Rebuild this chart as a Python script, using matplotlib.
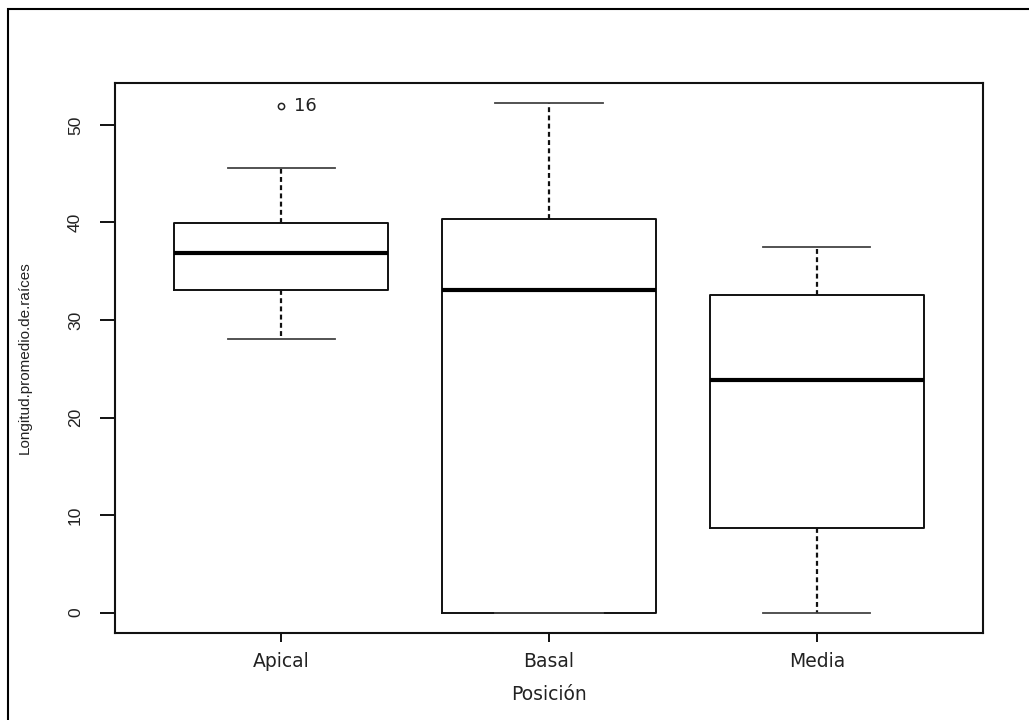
import matplotlib
matplotlib.use("Agg")
import matplotlib.pyplot as plt
from matplotlib.patches import Rectangle

# Values
categories = ["Apical", "Basal", "Media"]
whisker_low = [28.1, 0.0, 0.0]
q1 = [33.1, 0.0, 8.7]
medians = [36.9, 33.1, 23.8]
q3 = [39.9, 40.4, 32.6]
whisker_high = [45.6, 52.2, 37.5]
outliers = [[51.9], [], []]
outlier_ids = [["16"], [], []]
yticks = [0, 10, 20, 30, 40, 50]

stats = []
for i, name in enumerate(categories):
    stats.append(dict(label=name, whislo=whisker_low[i], q1=q1[i], med=medians[i],
                      q3=q3[i], whishi=whisker_high[i], fliers=outliers[i]))

fig = plt.figure(figsize=(10.29, 7.2), dpi=100)
ax = fig.add_axes([115 / 1029, 87 / 720, 868 / 1029, 550 / 720])

ax.bxp(stats, positions=[1, 2, 3], widths=0.8, capwidths=0.4,
       boxprops=dict(color="#111111", linewidth=1.4),
       medianprops=dict(color="black", linewidth=3.0),
       whiskerprops=dict(color="#111111", linewidth=1.6, linestyle=(0, (2.2, 1.5))),
       capprops=dict(color="#444444", linewidth=1.3),
       flierprops=dict(marker="o", markersize=4.5, markerfacecolor="none",
                       markeredgecolor="#222222", markeredgewidth=1.1))

# outlier label as in R identify()
for i in range(len(categories)):
    for val, lab in zip(outliers[i], outlier_ids[i]):
        ax.text(i + 1.05, val, lab, fontsize=13, family="DejaVu Sans",
                va="center", ha="left", color="#222222")

ax.set_xlim(0.38, 3.62)
ax.set_ylim(-2.09, 54.3)
ax.set_xticks([1, 2, 3])
ax.set_xticklabels(categories, fontsize=13.5, family="DejaVu Sans", color="#222222")
ax.set_yticks(yticks)
ax.set_yticklabels([str(t) for t in yticks], rotation=90, va="center",
                   fontsize=12.5, family="Liberation Sans", color="#222222")
ax.tick_params(axis="y", length=11, width=1.4, pad=12, colors="#111111")
ax.tick_params(axis="x", length=6.5, width=1.4, pad=7, colors="#111111")
for lab in ax.get_yticklabels() + ax.get_xticklabels():
    lab.set_color("#222222")
for sp in ax.spines.values():
    sp.set_linewidth(1.5)
    sp.set_color("#111111")

ax.set_xlabel("Posición", fontsize=13.5, family="DejaVu Sans", color="#222222")
ax.xaxis.set_label_coords(0.5, (633 - 695) / 550)
ax.xaxis.label.set_va("center")
ax.set_ylabel("Longitud.promedio.de.raíces", fontsize=11,
              family="Liberation Sans", color="#222222")
ax.yaxis.set_label_coords((25 - 115) / 868, 0.5)
ax.yaxis.label.set_va("center")

# border of the device window (only top and left visible in the crop)
fig.patches.append(Rectangle((8 / 1029, -0.2), 1.5, (720 - 9) / 720 + 0.2,
                             transform=fig.transFigure, fill=False,
                             edgecolor="black", linewidth=1.5, clip_on=False))

fig.savefig("out.png", dpi=100)
